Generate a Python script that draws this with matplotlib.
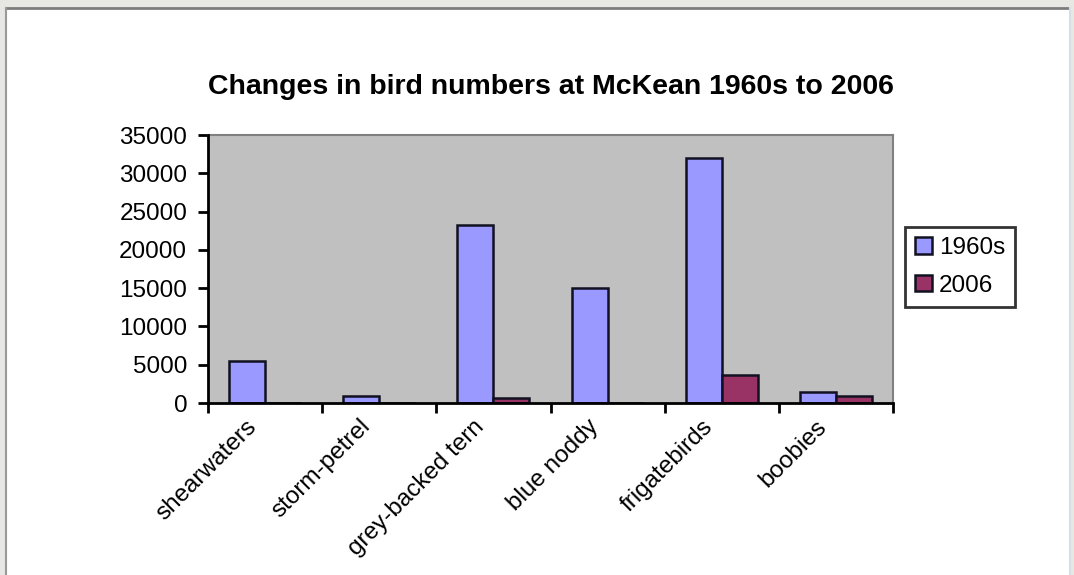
import matplotlib
matplotlib.use("Agg")
import matplotlib.pyplot as plt
import matplotlib.transforms as mtransforms
from matplotlib.patches import Rectangle
from matplotlib.lines import Line2D
import numpy as np

plt.rcParams['font.family'] = ['Liberation Sans', 'DejaVu Sans']

categories = ["shearwaters", "storm-petrel", "grey-backed tern",
              "blue noddy", "frigatebirds", "boobies"]
series_names = ["1960s", "2006"]
counts_1960s = [5500, 900, 23300, 15000, 32000, 1400]
counts_2006 = [0, 0, 700, 0, 3700, 900]
y_ticks = [0, 5000, 10000, 15000, 20000, 25000, 30000, 35000]
title = "Changes in bird numbers at McKean 1960s to 2006"

W, H = 1074, 575
fig = plt.figure(figsize=(W / 100, H / 100), dpi=100)
fig.patch.set_facecolor("#e7e7e3")

# white sheet with a thin darker frame on top/left
sheet = Rectangle((6 / W, 0), (1069 - 6) / W, (H - 8) / H,
                  transform=fig.transFigure, facecolor="white",
                  edgecolor="none", zorder=-5)
fig.patches.append(sheet)
for xs, ys, c, lw in [([6 / W, 1069 / W], [1 - 8 / H, 1 - 8 / H], "#7c7c7c", 2),
                      ([6 / W, 6 / W], [0, 1 - 8 / H], "#9a9a9a", 1.5),
                      ([1070 / W, 1070 / W], [0, 1 - 8 / H], "#d8dde6", 1.5)]:
    fig.lines.append(Line2D(xs, ys, transform=fig.transFigure, color=c,
                            lw=lw, zorder=-4))

ax = fig.add_axes([208 / W, 1 - 403 / H, (893 - 208) / W, (403 - 135) / H])
ax.set_facecolor("#c0c0c0")

x = np.arange(len(categories))
bw = 0.315
ax.bar(x - bw / 2, counts_1960s, bw, color="#9999ff", edgecolor="#111122",
       linewidth=1.8, label=series_names[0], zorder=3)
ax.bar(x + bw / 2, counts_2006, bw, color="#993366", edgecolor="#111122",
       linewidth=1.8, label=series_names[1], zorder=3)

ax.set_xlim(-0.5, len(categories) - 0.5)
ax.set_ylim(0, 35000)
ax.set_yticks(y_ticks)
ax.set_yticklabels([str(v) for v in y_ticks])

# category boundaries carry the tick marks, centres carry the labels
ax.set_xticks(np.arange(len(categories) + 1) - 0.5, minor=True)
ax.set_xticks(x)
ax.set_xticklabels(categories, rotation=45, ha="right",
                   rotation_mode="anchor")
ax.tick_params(axis="x", which="major", length=0, pad=9, labelsize=17.5)
ax.tick_params(axis="x", which="minor", length=7, width=2, direction="out",
               color="black")
ax.tick_params(axis="y", length=7, width=2, direction="out", pad=8,
               labelsize=17.5, color="black")

shift = mtransforms.ScaledTranslation(-20 / 100, 0, fig.dpi_scale_trans)
for lab in ax.get_xticklabels():
    lab.set_transform(lab.get_transform() + shift)

for side in ("left", "bottom"):
    ax.spines[side].set_color("black")
    ax.spines[side].set_linewidth(2)
    ax.spines[side].set_zorder(4)
for side in ("top", "right"):
    ax.spines[side].set_color("#808080")
    ax.spines[side].set_linewidth(1.5)

fig.text((208 + 893) / 2 / W, 1 - 87 / H, title, ha="center", va="center",
         fontsize=20.5, fontweight="bold")

leg = ax.legend(loc="center left", bbox_to_anchor=(905 / W, 1 - 267 / H),
                bbox_transform=fig.transFigure, fontsize=17.5,
                frameon=True, fancybox=False, edgecolor="black",
                handlelength=0.7, handleheight=0.65, handletextpad=0.3,
                borderpad=0.4, labelspacing=0.65, borderaxespad=0)
leg.get_frame().set_linewidth(2)

fig.savefig("out.png", dpi=100, facecolor=fig.get_facecolor())
